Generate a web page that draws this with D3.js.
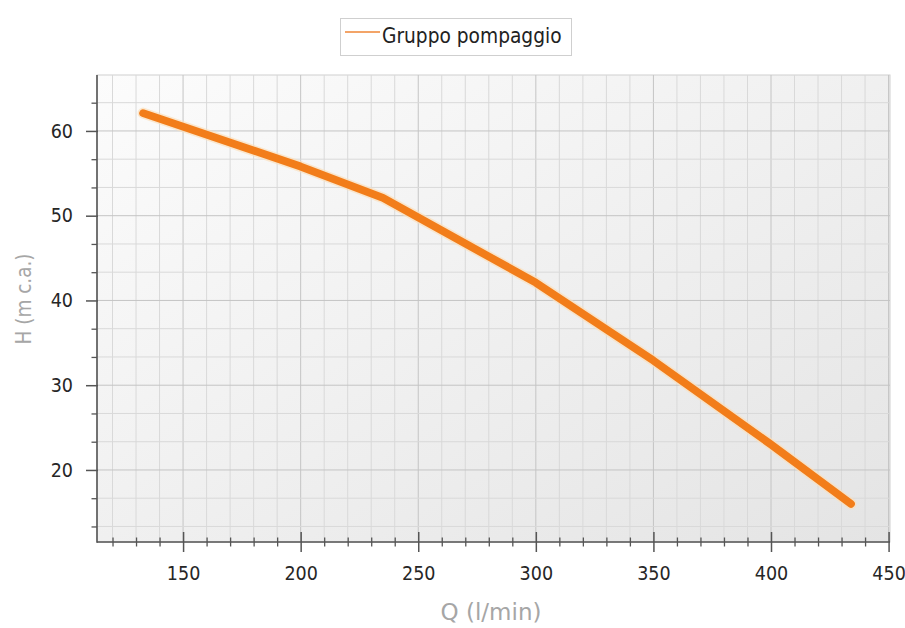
<!DOCTYPE html>
<html><head><meta charset="utf-8">
<script src="https://cdn.jsdelivr.net/npm/d3@7"></script>
<style>body{margin:0;background:#fff;} svg{display:block}</style>
</head><body><svg id="c" width="905" height="628"></svg>
<script>
// ---- data ----
const flow = [133, 200, 235, 300, 350, 400, 434];
const head = [62.1, 55.8, 52.1, 42.1, 32.9, 23.0, 16.0];
const xTickValues = [150, 200, 250, 300, 350, 400, 450];
const yTickValues = [20, 30, 40, 50, 60];
const xMinorValues = d3.range(120, 451, 10);
const yMinorValues = d3.range(4, 20).map(i => i * 10 / 3);
const seriesName = "Gruppo pompaggio";
const xTitle = "Q (l/min)";
const yTitle = "H (m c.a.)";

// ---- layout ----
const L = 97, R = 890, T = 75, B = 542;
const FONT = "'DejaVu Sans Condensed','DejaVu Sans',sans-serif";
const svg = d3.select("#c");
const x = d3.scaleLinear().domain([113.4, 450.6]).range([L, R]);
const y = d3.scaleLinear().domain([11.5, 66.6]).range([B, T]);

const defs = svg.append("defs");
const g1 = defs.append("linearGradient").attr("id", "bg")
  .attr("x1", 0).attr("y1", 0).attr("x2", 1).attr("y2", 1);
g1.append("stop").attr("offset", "0%").attr("stop-color", "#fcfcfc");
g1.append("stop").attr("offset", "100%").attr("stop-color", "#e4e4e4");

svg.append("rect").attr("x", L).attr("y", T).attr("width", R - L).attr("height", B - T)
  .attr("fill", "url(#bg)").attr("stroke", "#d0d0d0").attr("stroke-width", 1);

// grid
const grid = svg.append("g");
grid.selectAll(".vx").data(xMinorValues).join("line")
  .attr("x1", d => x(d)).attr("x2", d => x(d)).attr("y1", T).attr("y2", B)
  .attr("stroke", d => d % 50 === 0 ? "#c4c4c4" : "#d9d9d9").attr("stroke-width", 1);
grid.selectAll(".hy").data(yMinorValues.filter(v => y(v) > T + 1 && y(v) < B - 1)).join("line")
  .attr("y1", d => y(d)).attr("y2", d => y(d)).attr("x1", L).attr("x2", R)
  .attr("stroke", d => Math.abs(d - Math.round(d / 10) * 10) < 0.01 ? "#c4c4c4" : "#d9d9d9").attr("stroke-width", 1);

// line
const line = d3.line().x((d, i) => x(flow[i])).y((d, i) => y(head[i]));
svg.append("path").datum(head).attr("d", line).attr("fill", "none")
  .attr("stroke", "#fbe0bc").attr("stroke-width", 11).attr("stroke-linecap", "round").attr("stroke-linejoin", "round").attr("opacity", 0.7);
svg.append("path").datum(head).attr("d", line).attr("fill", "none")
  .attr("stroke", "#f27d1a").attr("stroke-width", 7.8).attr("stroke-linecap", "round").attr("stroke-linejoin", "round");

// x axis
const xAxis = svg.append("g").attr("transform", `translate(0,${B})`)
  .call(d3.axisBottom(x).tickValues(xTickValues).tickSize(10).tickPadding(14).tickFormat(d3.format("d")));
xAxis.select(".domain").remove();
xAxis.selectAll(".tick line").attr("y1", -10).attr("stroke", "#555").attr("stroke-width", 1.5);
xAxis.selectAll("text").attr("font-family", FONT).attr("font-size", 19.5).attr("fill", "#262626");
const xMinor = svg.append("g").attr("transform", `translate(0,${B})`)
  .call(d3.axisBottom(x).tickValues(xMinorValues.filter(v => v % 50 !== 0)).tickSize(4.5).tickFormat(""));
xMinor.select(".domain").remove();
xMinor.selectAll(".tick line").attr("y1", -4.5).attr("stroke", "#555").attr("stroke-width", 1.3);

// y axis
const yAxis = svg.append("g").attr("transform", `translate(${L},0)`)
  .call(d3.axisLeft(y).tickValues(yTickValues).tickSize(11).tickPadding(13).tickFormat(d3.format("d")));
yAxis.select(".domain").remove();
yAxis.selectAll(".tick line").attr("x2", -11).attr("x1", 1).attr("stroke", "#555").attr("stroke-width", 1.5);
yAxis.selectAll("text").attr("font-family", FONT).attr("font-size", 19.5).attr("fill", "#262626");
const yMinor = svg.append("g").attr("transform", `translate(${L},0)`)
  .call(d3.axisLeft(y).tickValues(yMinorValues.filter(v => y(v) > T + 2 && Math.abs(v - Math.round(v / 10) * 10) > 0.01)).tickSize(5.5).tickFormat(""));
yMinor.select(".domain").remove();
yMinor.selectAll(".tick line").attr("stroke", "#555").attr("stroke-width", 1.3);

// axis lines
svg.append("line").attr("x1", L).attr("x2", L).attr("y1", T).attr("y2", B + 0.75).attr("stroke", "#555").attr("stroke-width", 1.6);
svg.append("line").attr("x1", L).attr("x2", R).attr("y1", B).attr("y2", B).attr("stroke", "#555").attr("stroke-width", 1.6);

// titles
svg.append("text").attr("x", 491).attr("y", 620).attr("text-anchor", "middle")
  .attr("font-family", "'DejaVu Sans',sans-serif").attr("font-size", 23).attr("fill", "#a6a6a6").text(xTitle);
svg.append("text").attr("transform", "translate(31,299) rotate(-90)").attr("text-anchor", "middle")
  .attr("font-family", FONT).attr("font-size", 20.5).attr("fill", "#a6a6a6").text(yTitle);

// legend
const lg = svg.append("g");
lg.append("rect").attr("x", 340.5).attr("y", 18.5).attr("width", 231).attr("height", 37)
  .attr("fill", "#fff").attr("stroke", "#cfcfcf").attr("stroke-width", 1);
lg.append("line").attr("x1", 345).attr("x2", 380).attr("y1", 32).attr("y2", 32)
  .attr("stroke", "#f3a468").attr("stroke-width", 2);
lg.append("text").attr("x", 382).attr("y", 42.5).attr("font-family", FONT).attr("font-size", 20.7)
  .attr("fill", "#222").text(seriesName);
</script></body></html>
